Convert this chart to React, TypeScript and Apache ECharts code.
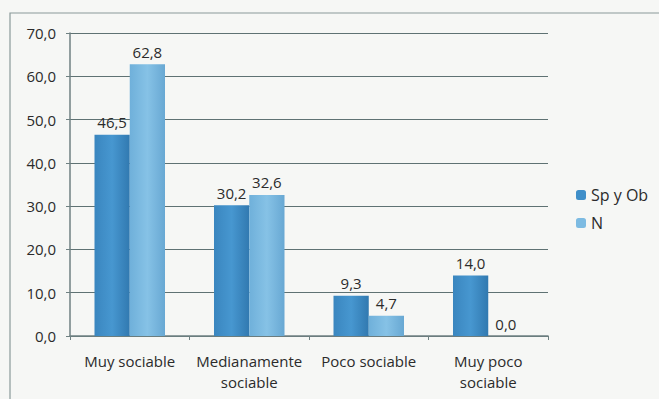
import React, { useEffect, useRef } from "react";
import * as echarts from "echarts";

const categories = ["Muy sociable", "Medianamente\nsociable", "Poco sociable", "Muy poco\nsociable"];
const seriesNames = ["Sp y Ob", "N"];
const spYOb = [46.5, 30.2, 9.3, 14.0];
const nValues = [62.8, 32.6, 4.7, 0.0];

const fmt = (v: number) => v.toFixed(1).replace(".", ",");

export default function App() {
  const ref = useRef<HTMLDivElement>(null);
  useEffect(() => {
    document.body.style.margin = "0";
    const chart = echarts.init(ref.current!, null, { renderer: "svg" });
    const font = "'Open Sans', sans-serif";
    const txt = "#2b2b2b";
    const grad = (c1: string, c2: string, c3: string) =>
      new echarts.graphic.LinearGradient(0, 0, 1, 0, [
        { offset: 0, color: c1 },
        { offset: 0.5, color: c2 },
        { offset: 1, color: c3 },
      ]);
    const label = {
      show: true,
      position: "top",
      distance: 5,
      fontFamily: font,
      fontSize: 15,
      color: txt,
      formatter: (p: any) => fmt(p.value),
    };
    chart.setOption({
      animation: false,
      backgroundColor: "#f6f7f5",
      textStyle: { fontFamily: font },
      graphic: [
        {
          type: "rect",
          shape: { x: 10, y: 13, width: 660, height: 400 },
          style: { fill: "none", stroke: "#8a9a9a", lineWidth: 1.2 },
          silent: true,
        },
      ],
      grid: { left: 70, right: 111, top: 33, bottom: 63 },
      legend: {
        orient: "vertical",
        left: 571,
        top: 182,
        itemWidth: 10,
        itemHeight: 10,
        itemGap: 12,
        textStyle: { fontFamily: font, fontSize: 16, color: txt },
        data: [
          { name: seriesNames[0], itemStyle: { color: "#3f8fc9" } },
          { name: seriesNames[1], itemStyle: { color: "#7dbbe2" } },
        ],
      },
      xAxis: {
        type: "category",
        data: categories,
        axisLine: { lineStyle: { color: "#6f8182", width: 1.5 } },
        axisTick: { show: true, length: 4, lineStyle: { color: "#6f8182" } },
        axisLabel: { interval: 0, fontFamily: font, fontSize: 15, color: txt, margin: 14, lineHeight: 21 },
      },
      yAxis: {
        type: "value",
        min: 0,
        max: 70,
        interval: 10,
        axisLine: { show: true, lineStyle: { color: "#6f8182", width: 1.5 } },
        axisTick: { show: true, length: 4, lineStyle: { color: "#6f8182" } },
        splitLine: { lineStyle: { color: "#5f7273", width: 1.2 } },
        axisLabel: { fontFamily: font, fontSize: 15, color: txt, margin: 14, formatter: (v: number) => fmt(v) },
      },
      series: [
        {
          name: seriesNames[0],
          type: "bar",
          data: spYOb,
          barGap: "0%",
          barCategoryGap: "41%",
          itemStyle: { color: grad("#3a86bf", "#4797d0", "#3179b0") },
          label,
        },
        {
          name: seriesNames[1],
          type: "bar",
          data: nValues,
          itemStyle: { color: grad("#6fb0da", "#86c2e6", "#68a8d3") },
          label,
        },
      ],
    });
    return () => chart.dispose();
  }, []);
  return <div ref={ref} style={{ width: 659, height: 399, position: "absolute", left: 0, top: 0 }} />;
}
